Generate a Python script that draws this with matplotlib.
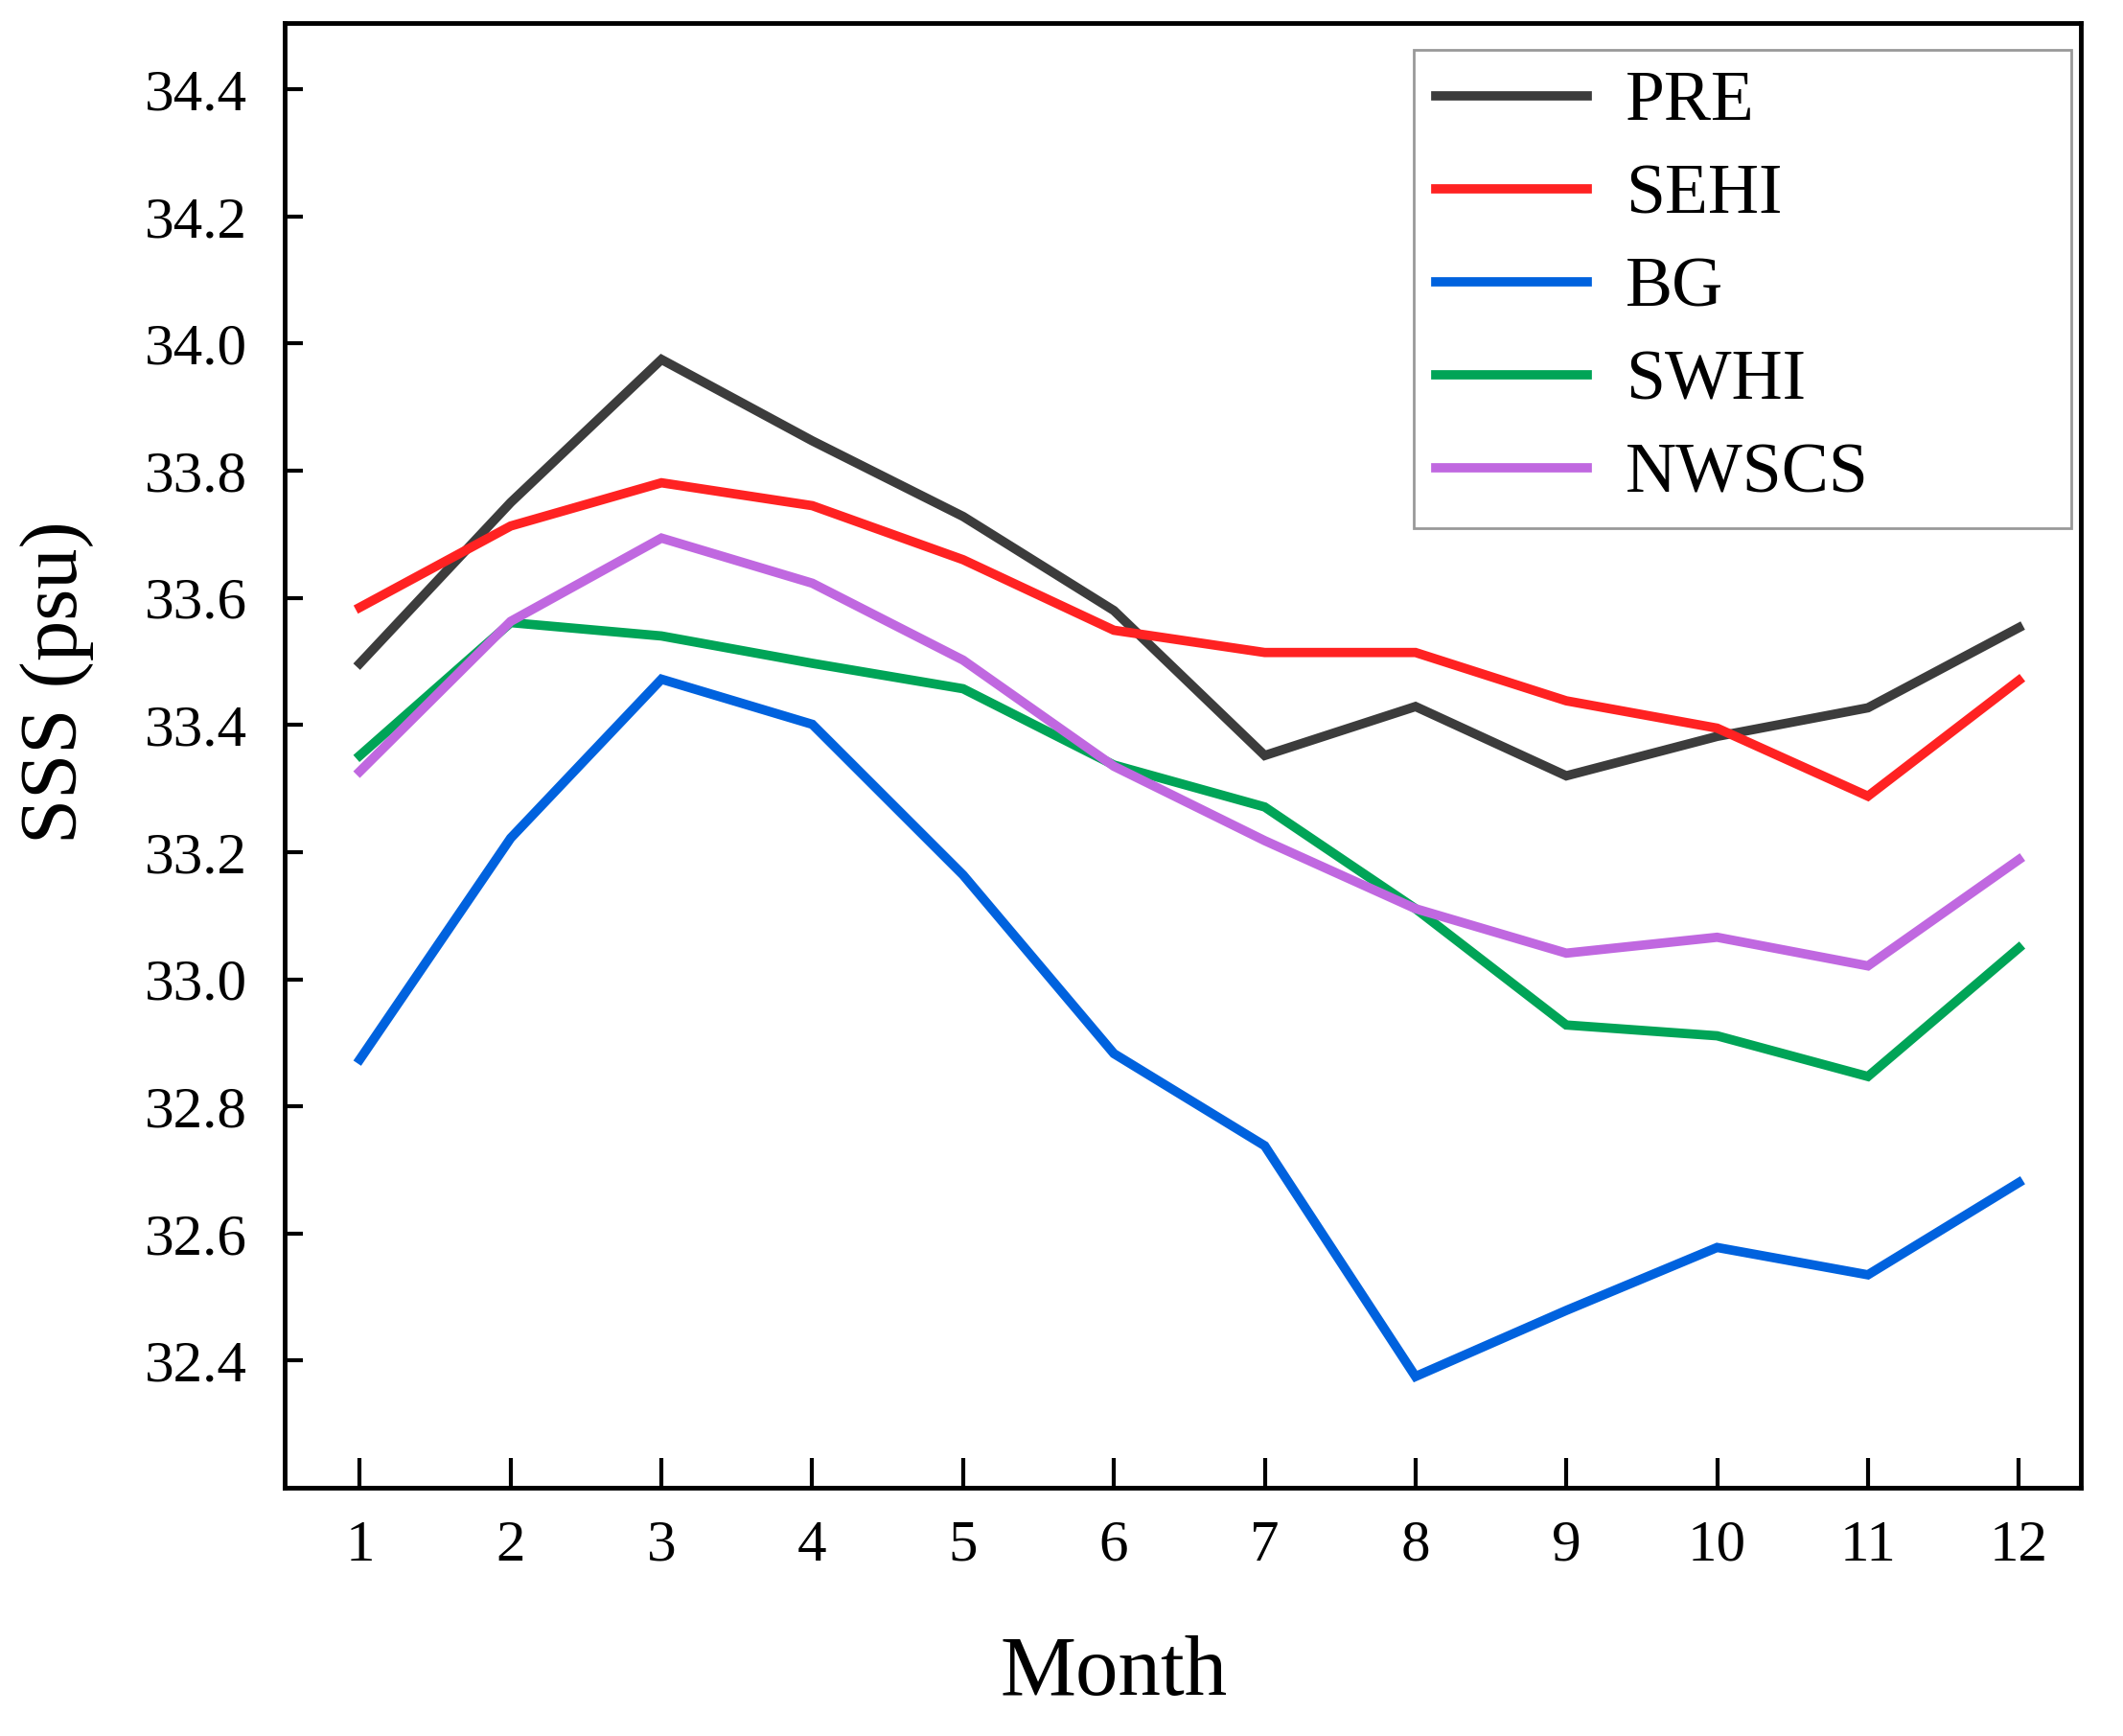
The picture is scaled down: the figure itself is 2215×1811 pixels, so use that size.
import matplotlib
matplotlib.use("Agg")
import matplotlib.pyplot as plt

months = [1, 2, 3, 4, 5, 6, 7, 8, 9, 10, 11, 12]
pre   = [33.497, 33.75, 33.975, 33.847, 33.728, 33.58, 33.352, 33.429, 33.32, 33.382, 33.427, 33.553]
sehi  = [33.585, 33.713, 33.781, 33.745, 33.66, 33.549, 33.514, 33.514, 33.438, 33.395, 33.288, 33.47]
bg    = [32.874, 33.222, 33.472, 33.401, 33.164, 32.883, 32.738, 32.375, 32.479, 32.578, 32.535, 32.68]
swhi  = [33.352, 33.561, 33.54, 33.497, 33.457, 33.337, 33.271, 33.111, 32.928, 32.911, 32.847, 33.049]
nwscs = [33.327, 33.563, 33.694, 33.623, 33.502, 33.335, 33.218, 33.111, 33.041, 33.066, 33.021, 33.188]
series_names = ["PRE", "SEHI", "BG", "SWHI", "NWSCS"]
yticks = [32.4, 32.6, 32.8, 33.0, 33.2, 33.4, 33.6, 33.8, 34.0, 34.2, 34.4]

colors = ["#3C3C3C", "#FF2222", "#0062DE", "#00A457", "#C068E0"]

plt.rcParams['font.family'] = ['Liberation Serif', 'DejaVu Serif']

fig = plt.figure(figsize=(22.15, 18.11), dpi=100)
ax = fig.add_axes([0.134, 0.143, 0.846, 0.844])

for data, name, c in zip([pre, sehi, bg, swhi, nwscs], series_names, colors):
    ax.plot(months, data, color=c, lw=7, label=name, solid_joinstyle='miter')

ax.set_xlim(0.5, 12.41)
ax.set_ylim(32.2, 34.505)
ax.set_xticks(months)
ax.set_xticklabels([str(m) for m in months])
ax.set_yticks(yticks)
ax.set_yticklabels([f"{v:.1f}" for v in yticks])

ax.tick_params(axis='x', direction='in', length=22, width=3, labelsize=44, pad=24)
ax.tick_params(axis='y', direction='in', length=14, width=3, labelsize=44, pad=28)
for s in ax.spines.values():
    s.set_linewidth(3.5)

ax.set_xlabel("Month", fontsize=64, labelpad=47, x=0.462)
ax.set_ylabel("SSS (psu)", fontsize=61, labelpad=38, y=0.55)

leg = ax.legend(loc='upper left', bbox_to_anchor=(0.629, 0.663, 0.3657, 0.3185),
                mode='expand', fontsize=53,
                frameon=True, fancybox=False, edgecolor='#808080',
                handlelength=2.15, handletextpad=0.55, labelspacing=0.4,
                borderpad=0.3, borderaxespad=0)
leg.get_frame().set_linewidth(2)

fig.savefig("out.png", dpi=100)
